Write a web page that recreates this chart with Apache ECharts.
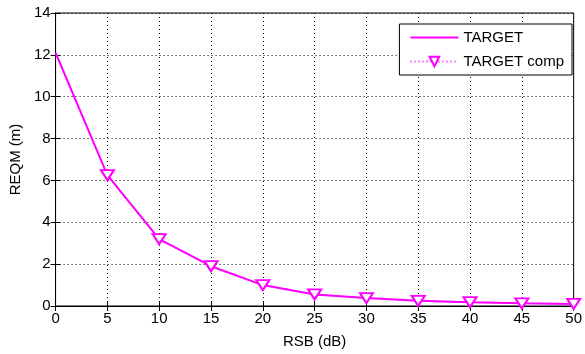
<!DOCTYPE html>
<html><head><meta charset="utf-8">
<script src="https://cdn.jsdelivr.net/npm/echarts@6/dist/echarts.min.js"></script>
<style>html,body{margin:0;padding:0;background:#fff}#c{width:585px;height:354px}</style>
</head><body><div id="c"></div>
<script>
const rsb = [0, 5, 10, 15, 20, 25, 30, 35, 40, 45, 50];
const target = [12.1, 6.25, 3.2, 1.9, 1.0, 0.55, 0.38, 0.25, 0.18, 0.13, 0.1];
const targetComp = [null, 6.25, 3.2, 1.9, 1.0, 0.55, 0.38, 0.25, 0.18, 0.13, 0.1];
const xTicks = [0, 5, 10, 15, 20, 25, 30, 35, 40, 45, 50];
const yTicks = [0, 2, 4, 6, 8, 10, 12, 14];

const font = 'Liberation Sans, Arial, sans-serif';
const fs = 15;
const chart = echarts.init(document.getElementById('c'));
const axisLine = {show: true, lineStyle: {color: '#000', width: 1}};
const tick = {show: true, inside: true, length: 5, lineStyle: {color: '#000'}};
const dotted = {show: true, lineStyle: {color: '#000', type: [1, 3], width: 1}};
chart.setOption({
  animation: false,
  grid: {left: 54, right: 8, top: 13, bottom: 48, show: true, borderColor: '#000', borderWidth: 1},
  legend: {
    right: 13, top: 24, orient: 'vertical', backgroundColor: '#fff',
    borderColor: '#000', borderWidth: 1, borderRadius: 0, padding: [6, 8, 6, 10],
    itemWidth: 48, itemHeight: 12, itemGap: 9, symbolKeepAspect: true,
    textStyle: {fontFamily: font, fontSize: fs, color: '#000'},
    data: [{name: 'TARGET', icon: 'path://M0,0 L48,0 L48,2 L0,2 Z'}, {name: 'TARGET comp'}]
  },
  xAxis: [{
    type: 'value', min: 0, max: 50, interval: 5,
    name: 'RSB (dB)', nameLocation: 'middle', nameGap: 28,
    nameTextStyle: {fontFamily: font, fontSize: fs, color: '#000'},
    axisLine: axisLine, axisTick: tick,
    axisLabel: {fontFamily: font, fontSize: fs, color: '#000', margin: 5,
      formatter: v => xTicks.includes(v) ? String(v) : ''},
    splitLine: dotted
  }, {
    type: 'value', min: 0, max: 50, interval: 5, position: 'top',
    axisLine: axisLine, axisTick: tick, axisLabel: {show: false}, splitLine: {show: false}
  }],
  yAxis: [{
    type: 'value', min: 0, max: 14, interval: 2,
    name: 'REQM (m)', nameLocation: 'middle', nameGap: 31,
    nameTextStyle: {fontFamily: font, fontSize: fs, color: '#000'},
    axisLine: axisLine, axisTick: tick,
    axisLabel: {fontFamily: font, fontSize: fs, color: '#000', margin: 5,
      formatter: v => yTicks.includes(v) ? String(v) : ''},
    splitLine: dotted
  }, {
    type: 'value', min: 0, max: 14, interval: 2, position: 'right',
    axisLine: axisLine, axisTick: tick, axisLabel: {show: false}, splitLine: {show: false}
  }],
  series: [
    {
      name: 'TARGET', type: 'line', data: rsb.map((x, i) => [x, target[i]]),
      symbol: 'none',
      lineStyle: {color: '#ff00ff', width: 2}, itemStyle: {color: '#ff00ff'}
    },
    {
      name: 'TARGET comp', type: 'line', data: rsb.map((x, i) => [x, targetComp[i]]),
      symbol: 'emptyTriangle', symbolRotate: 180, symbolSize: [13, 10],
      lineStyle: {color: '#ff00ff', width: 1.5, type: [1, 3]},
      itemStyle: {color: '#ff00ff', borderColor: '#ff00ff', borderWidth: 2}
    }
  ]
});
</script></body></html>
